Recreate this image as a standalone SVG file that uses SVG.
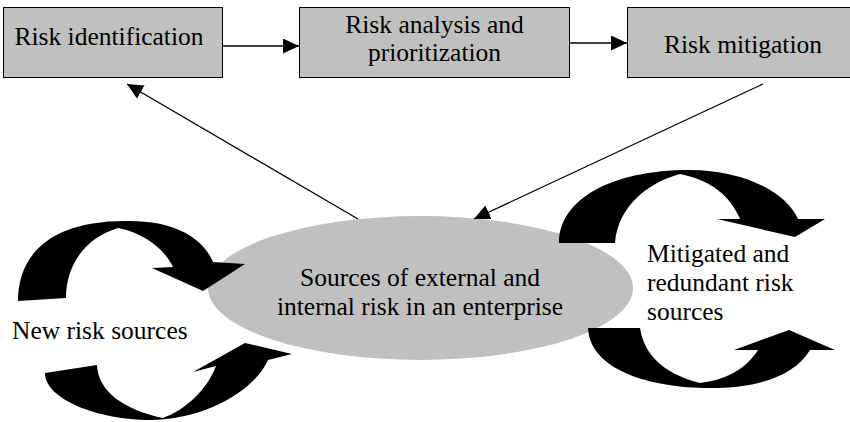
<svg xmlns="http://www.w3.org/2000/svg" width="850" height="422" viewBox="0 0 850 422">
<style>
.box{fill:#c0c0c0;stroke:#000;stroke-width:1}
.t{font-family:'Liberation Serif','DejaVu Serif',serif;font-size:25.5px;fill:#000}
.c{text-anchor:middle}
.ln{stroke:#000;stroke-width:1.3;fill:none;marker-end:url(#ah)}
.curve{fill:#000;stroke:none}
</style>
<defs>
<marker id="ah" markerUnits="userSpaceOnUse" markerWidth="18" markerHeight="16" refX="16" refY="7.5" orient="auto">
<path d="M0,0 L16,7.5 L0,15 Z" fill="#000"/>
</marker>
</defs>
<rect width="850" height="422" fill="#fff"/>
<g id="sources">
<ellipse cx="420.5" cy="288" rx="212.5" ry="72" fill="#c0c0c0"/>
<text class="t c" x="420" y="286">Sources of external and</text>
<text class="t c" x="420" y="315">internal risk in an enterprise</text>
</g>
<g id="new-risk-arrows">
<path class="curve" d="M18,301 C18,255 50,221 125,221 C175,220 203,238 213,262 L245,264 L203,291 L152,268 L173,267 C165,250 145,233 118,228 C85,238 66,265 66,298 Z"/>
<path class="curve" d="M45,373 C45,400 100,420 150,420 C205,420 255,390 268,360 L292,354 L245,343 L193,372 L216,366 C207,390 185,410 163,418 C125,410 98,392 97,365 Z"/>
<text class="t" x="12" y="339">New risk sources</text>
</g>
<g id="mitigated-arrows">
<path class="curve" d="M559,243 C559,200 610,170 690,170 C740,170 785,190 798,219 L825,219 L795,237 L717,219 L740,219 C730,195 710,180 680,174 C650,182 618,205 615,243 Z"/>
<path class="curve" d="M588,328 C590,370 650,388 710,388 C760,388 795,375 810,350 L835,350 L789,330 L734,350 L758,350 C745,370 725,380 700,383 C670,375 645,360 640,328 Z"/>
<text class="t" x="647" y="262">Mitigated and</text>
<text class="t" x="647" y="291">redundant risk</text>
<text class="t" x="647" y="320">sources</text>
</g>
<g id="risk-identification">
<rect class="box" x="3.5" y="7.5" width="219" height="70"/>
<text class="t c" x="109" y="44.5">Risk identification</text>
</g>
<g id="risk-analysis">
<rect class="box" x="299.5" y="7.5" width="270" height="70"/>
<text class="t c" x="434.5" y="32.5">Risk analysis and</text>
<text class="t c" x="434.5" y="61">prioritization</text>
</g>
<g id="risk-mitigation">
<rect class="box" x="627.5" y="7.5" width="230" height="70"/>
<text class="t c" x="743" y="52.5">Risk mitigation</text>
</g>
<g id="connectors">
<line class="ln" x1="222.5" y1="46" x2="299" y2="46"/>
<line class="ln" x1="569.5" y1="43" x2="627" y2="43"/>
<line class="ln" x1="358" y1="219" x2="127" y2="84"/>
<line class="ln" x1="763" y1="84" x2="474" y2="219"/>
</g>
</svg>
